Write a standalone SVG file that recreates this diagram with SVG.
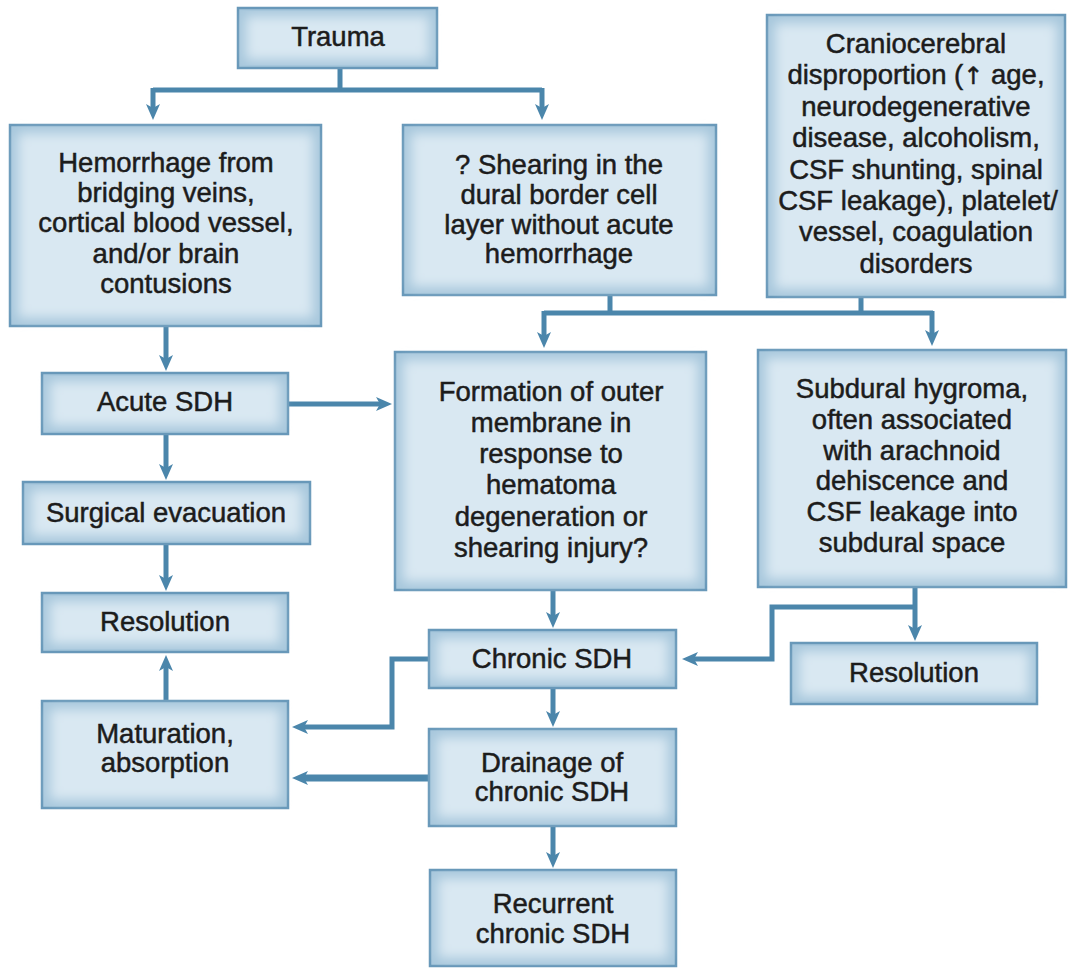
<svg xmlns="http://www.w3.org/2000/svg" width="1069" height="968" viewBox="0 0 1069 968">
<defs>
<filter id="soft" x="-10%" y="-10%" width="120%" height="120%"><feGaussianBlur stdDeviation="6"/></filter>
<marker id="ah" markerUnits="userSpaceOnUse" markerWidth="18" markerHeight="16" refX="4" refY="7" orient="auto" viewBox="0 0 18 16">
<path d="M0,0 L16,7 L0,14 L4,7 z" fill="#4b86ab"/>
</marker>
<style>
.box{fill:#a7c7dc;stroke:#6898b9;stroke-width:2.5}
.inn{fill:#d9e8f2;filter:url(#soft)}
text{font-family:"Liberation Sans",Arial,sans-serif;font-size:27.5px;fill:#1c1c1c;text-anchor:middle;stroke:#1c1c1c;stroke-width:0.5}
.c{fill:none;stroke:#4b86ab;stroke-width:5}
.ca{fill:none;stroke:#4b86ab;stroke-width:5;marker-end:url(#ah)}
</style>
</defs>
<rect width="1069" height="968" fill="#ffffff"/>

<g id="connectors">
<path class="c" d="M340,68 V90 M153,90 H542"/>
<path class="ca" d="M153,88 V108"/>
<path class="ca" d="M542,88 V108"/>
<path class="c" d="M610,295 V313 M861,297 V313 M544,313 H933"/>
<path class="ca" d="M544,311 V336"/>
<path class="ca" d="M932,311 V334"/>
<path class="ca" d="M166,325 V359"/>
<path class="ca" d="M166,434 V468"/>
<path class="ca" d="M166,544 V579"/>
<path class="ca" d="M166,701 V667"/>
<path class="ca" d="M288,404 H380"/>
<path class="ca" d="M553,590 V616"/>
<path class="ca" d="M553,688 V715"/>
<path class="ca" d="M553,826 V856"/>
<path class="ca" d="M915,587 V629"/>
<path class="ca" d="M917,607 H772 V659 H694"/>
<path class="ca" d="M429,659 H392 V727 H304"/>
<path class="ca" style="stroke-width:7" d="M429,778 H304"/>
</g>

<g id="trauma">
<rect class="box" x="238" y="8" width="199" height="60"/>
<rect class="inn" x="246" y="16" width="183" height="44"/>
<text x="338" y="46">Trauma</text>
</g>

<g id="hemorrhage">
<rect class="box" x="10" y="125" width="311" height="201"/>
<rect class="inn" x="18" y="133" width="295" height="185"/>
<text x="166" y="172">Hemorrhage from</text>
<text x="166" y="202">bridging veins,</text>
<text x="166" y="232">cortical blood vessel,</text>
<text x="166" y="263">and/or brain</text>
<text x="166" y="293">contusions</text>
</g>

<g id="shearing">
<rect class="box" x="403" y="125" width="313" height="170"/>
<rect class="inn" x="411" y="133" width="297" height="154"/>
<text x="559" y="174">? Shearing in the</text>
<text x="559" y="204">dural border cell</text>
<text x="559" y="234">layer without acute</text>
<text x="559" y="263">hemorrhage</text>
</g>

<g id="craniocerebral">
<rect class="box" x="767" y="15" width="298" height="282"/>
<rect class="inn" x="775" y="23" width="282" height="266"/>
<text x="916" y="53">Craniocerebral</text>
<text x="916" y="84">disproportion (<tspan style="font-family:'DejaVu Sans',sans-serif;font-size:24px">↑</tspan> age,</text>
<text x="916" y="116">neurodegenerative</text>
<text x="916" y="147">disease, alcoholism,</text>
<text x="916" y="179">CSF shunting, spinal</text>
<text x="918" y="210">CSF leakage), platelet/</text>
<text x="916" y="241">vessel, coagulation</text>
<text x="916" y="273">disorders</text>
</g>

<g id="acute-sdh">
<rect class="box" x="42" y="373" width="246" height="61"/>
<rect class="inn" x="50" y="381" width="230" height="45"/>
<text x="165" y="411">Acute SDH</text>
</g>

<g id="surgical-evacuation">
<rect class="box" x="23" y="482" width="287" height="62"/>
<rect class="inn" x="31" y="490" width="271" height="46"/>
<text x="166" y="522">Surgical evacuation</text>
</g>

<g id="resolution-left">
<rect class="box" x="42" y="593" width="246" height="59"/>
<rect class="inn" x="50" y="601" width="230" height="43"/>
<text x="165" y="631">Resolution</text>
</g>

<g id="maturation">
<rect class="box" x="42" y="701" width="246" height="107"/>
<rect class="inn" x="50" y="709" width="230" height="91"/>
<text x="165" y="743">Maturation,</text>
<text x="165" y="772">absorption</text>
</g>

<g id="formation">
<rect class="box" x="395" y="352" width="311" height="238"/>
<rect class="inn" x="403" y="360" width="295" height="222"/>
<text x="551" y="401">Formation of outer</text>
<text x="551" y="432">membrane in</text>
<text x="551" y="463">response to</text>
<text x="551" y="494">hematoma</text>
<text x="551" y="526">degeneration or</text>
<text x="551" y="557">shearing injury?</text>
</g>

<g id="subdural-hygroma">
<rect class="box" x="758" y="350" width="308" height="237"/>
<rect class="inn" x="766" y="358" width="292" height="221"/>
<text x="912" y="398">Subdural hygroma,</text>
<text x="912" y="429">often associated</text>
<text x="912" y="460">with arachnoid</text>
<text x="912" y="490">dehiscence and</text>
<text x="912" y="521">CSF leakage into</text>
<text x="912" y="552">subdural space</text>
</g>

<g id="chronic-sdh">
<rect class="box" x="429" y="630" width="247" height="58"/>
<rect class="inn" x="437" y="638" width="231" height="42"/>
<text x="552" y="668">Chronic SDH</text>
</g>

<g id="resolution-right">
<rect class="box" x="791" y="643" width="246" height="61"/>
<rect class="inn" x="799" y="651" width="230" height="45"/>
<text x="914" y="682">Resolution</text>
</g>

<g id="drainage">
<rect class="box" x="429" y="729" width="247" height="97"/>
<rect class="inn" x="437" y="737" width="231" height="81"/>
<text x="552" y="772">Drainage of</text>
<text x="552" y="801">chronic SDH</text>
</g>

<g id="recurrent">
<rect class="box" x="430" y="870" width="246" height="96"/>
<rect class="inn" x="438" y="878" width="230" height="80"/>
<text x="553" y="913">Recurrent</text>
<text x="553" y="943">chronic SDH</text>
</g>
</svg>
